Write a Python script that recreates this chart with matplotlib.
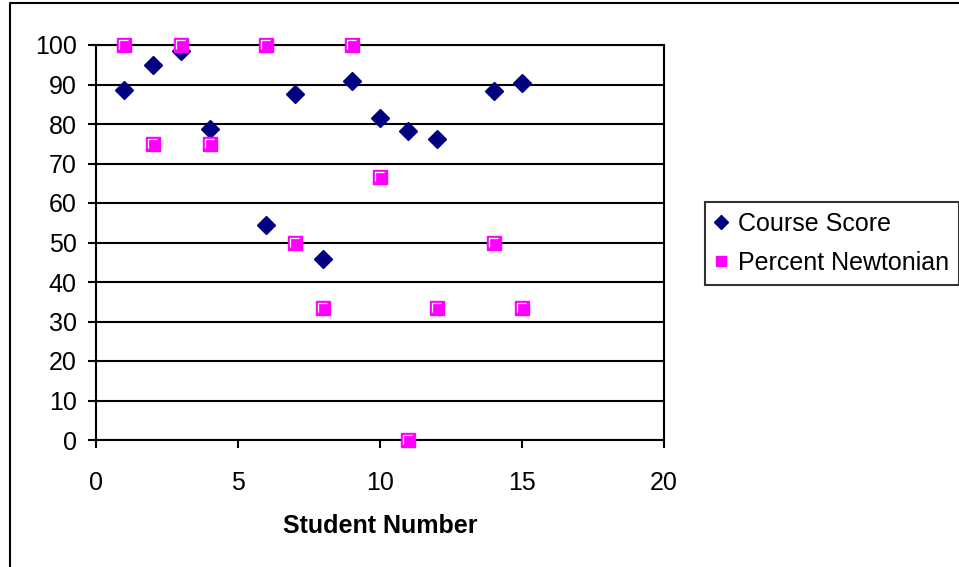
import matplotlib
matplotlib.use("Agg")
import matplotlib.pyplot as plt
from matplotlib.path import Path
from matplotlib.lines import Line2D

plt.rcParams['font.family'] = ['Liberation Sans', 'DejaVu Sans']

# data
course_x = [1, 2, 3, 4, 6, 7, 8, 9, 10, 11, 12, 14, 15]
course_score = [88.5, 95, 98.5, 78.8, 54.5, 87.5, 45.8, 91, 81.5, 78.3, 76.2, 88.3, 90.5]
newton_x = [1, 2, 3, 4, 6, 7, 8, 9, 10, 11, 12, 14, 15]
percent_newtonian = [100, 75, 100, 75, 100, 50, 33.3, 100, 66.7, 0, 33.3, 50, 33.3]
x_ticks = [0, 5, 10, 15, 20]
y_ticks = list(range(0, 101, 10))

fig = plt.figure(figsize=(9.59, 5.67), dpi=100)
ax = fig.add_axes([96 / 959, 1 - 440 / 567, 568 / 959, 395 / 567])

navy = '#000080'
magenta = '#FF00FF'

# little white corner highlight on the squares, like the old Excel marker
corner = Path([(-0.55, -0.45), (-0.55, 0.55), (0.45, 0.55)],
              [Path.MOVETO, Path.LINETO, Path.LINETO])

ax.plot(course_x, course_score, linestyle='none', marker='D', markersize=9.5,
        color=navy, markeredgecolor=navy, zorder=3, clip_on=False)
ax.plot(newton_x, percent_newtonian, linestyle='none', marker='s', markersize=9.5,
        color=magenta, markeredgecolor=magenta, zorder=4, clip_on=False)
ax.plot(newton_x, percent_newtonian, linestyle='none', marker=corner, markersize=6.5,
        markerfacecolor='none', markeredgecolor='white', markeredgewidth=0.9,
        zorder=5, clip_on=False)

ax.set_xlim(0, 20)
ax.set_ylim(0, 100)
ax.set_xticks(x_ticks)
ax.set_yticks(y_ticks)
ax.tick_params(direction='out', length=6, width=1.5, labelsize=18, color='black')
ax.tick_params(axis='x', pad=16)
ax.tick_params(axis='y', pad=8)
ax.yaxis.grid(True, color='black', linewidth=1.5)
ax.set_axisbelow(True)
for s in ax.spines.values():
    s.set_linewidth(1.5)
    s.set_color('black')

ax.set_xlabel('Student Number', fontsize=18, fontweight='bold', labelpad=14)

# legend handles
h1 = Line2D([], [], linestyle='none', marker='D', markersize=7.5, color=navy)
h2 = Line2D([], [], linestyle='none', marker='s', markersize=7.5, color=magenta)
leg = fig.legend([h1, h2], ['Course Score', 'Percent Newtonian'],
                 loc='upper left', bbox_to_anchor=(705 / 959, 1 - 202 / 567),
                 fontsize=18, frameon=True, fancybox=False, handlelength=0.5,
                 handletextpad=0.4, borderpad=0.4, labelspacing=0.6,
                 borderaxespad=0)
leg.get_frame().set_edgecolor('black')
leg.get_frame().set_linewidth(1.5)

# outer chart border (only top and left are visible in the reference)
fig.add_artist(Line2D([10 / 959, 10 / 959, 1], [0, 1 - 3 / 567, 1 - 3 / 567],
                      transform=fig.transFigure, color='black', linewidth=1.5))

fig.savefig('out.png', dpi=100)
